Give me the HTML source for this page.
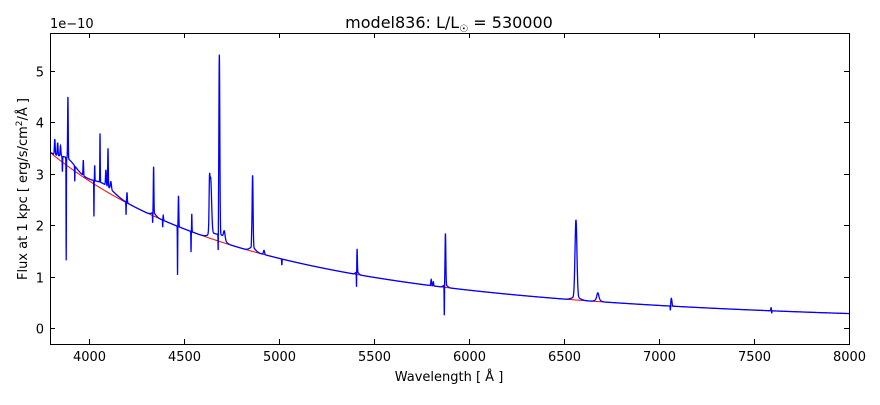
<!DOCTYPE html>
<html><head><meta charset="utf-8"><style>
body{margin:0;background:#fff;}
svg text{font-family:"DejaVu Sans","Liberation Sans",sans-serif;fill:#000;}
</style></head><body>
<svg id="s" width="880" height="400" xmlns="http://www.w3.org/2000/svg">
<rect width="880" height="400" fill="#fff"/>
<defs><clipPath id="c"><rect x="50" y="33" width="799" height="311"/></clipPath></defs>
<g clip-path="url(#c)">
<path id="red" fill="none" stroke="#f00" stroke-width="1"/>
<path id="blue" fill="none" stroke="#00f" stroke-width="1.3"/>
</g>
<rect x="50.5" y="33.5" width="799" height="311" fill="none" stroke="#000" stroke-width="1"/>
<g id="ticks" stroke="#000" stroke-width="1"></g>
<g id="lab" font-size="13"></g>
<text x="449" y="28" font-size="16" text-anchor="middle">model836: L/L<tspan font-size="10" dy="4">☉</tspan><tspan dy="-4"> = 530000</tspan></text>
<text x="50" y="28" font-size="13">1e−10</text>
<text x="449" y="381" font-size="13" text-anchor="middle">Wavelength [ Å ]</text>
<text transform="translate(27,189) rotate(-90)" font-size="13" text-anchor="middle">Flux at 1 kpc [ erg/s/cm<tspan font-size="9" dy="-5">2</tspan><tspan dy="5">/Å ]</tspan></text>
</svg>
<script>
function X(l){return 51+(l-3800)*0.19;}
function Y(f){return 328-f*51.4;}
function cont(l){return 3.4*Math.pow(3800/l,3.35);}
var lines=[[3820,0.3,2],[3835,0.25,2],[3850,0.2,2],[3889,1.2,1.5],[3880,-2.0,0.8],[3860,-0.3,1],[3970,0.3,1.5],[3925,-0.3,0.8],[4026,-0.7,0.8],[4030,0.3,1],[4058,0.95,1],[4089,0.3,2],[4100,0.75,1.5],[4115,0.15,3],[4200,0.2,1.5],[4195,-0.25,0.8],[4340,0.9,1.5],[4335,-0.2,0.8],[4388,-0.2,0.8],[4390,0.1,2],[4471,0.6,1.5],[4466,-0.95,0.8],[4541,0.35,1],[4537,-0.4,0.8],[4640,1.1,5],[4634,0.6,2],[4686,3.5,2.5],[4680,-0.5,0.8],[4712,0.15,4],[4861,1.4,2.5],[4856,0.12,1],[4921,0.08,3],[5015,-0.12,1],[5411,0.45,1.5],[5408,-0.35,0.8],[5801,0.12,2],[5812,0.08,2],[5876,1.0,2],[5870,-0.6,0.8],[6563,1.5,5],[6678,0.12,5],[7065,0.15,3],[7060,-0.12,1],[7590,0.06,2],[7593,-0.06,1],
[3890,0.15,40],[4080,0.12,50],[4660,0.12,25],[4700,0.1,15],[4861,0.08,15],[4340,0.06,12],[5411,0.05,8],[5876,0.05,10],[6563,0.06,20],[6678,0.05,12]];
var r="",b="";
for(var l=3800;l<=8010;l+=0.5){var c=cont(l);r+=(l==3800?"M":"L")+X(l).toFixed(2)+","+Y(c).toFixed(2);
var f=c;for(var i=0;i<lines.length;i++){var d=(l-lines[i][0])/lines[i][2];if(Math.abs(d)<6)f+=lines[i][1]*Math.exp(-0.5*d*d);}
b+=(l==3800?"M":"L")+X(l).toFixed(2)+","+Y(f).toFixed(2);}
document.getElementById("red").setAttribute("d",r);
document.getElementById("blue").setAttribute("d",b);
var t="",lab="";
for(var w=4000;w<=8000;w+=500){var x=Math.round(X(w))+0.5;t+='<line x1="'+x+'" y1="344" x2="'+x+'" y2="339"/><line x1="'+x+'" y1="33" x2="'+x+'" y2="38"/>';lab+='<text x="'+x+'" y="361" text-anchor="middle">'+w+'</text>';}
for(var v=0;v<=5;v++){var y=Math.round(Y(v))+0.5;t+='<line x1="50" y1="'+y+'" x2="55" y2="'+y+'"/><line x1="849" y1="'+y+'" x2="844" y2="'+y+'"/>';lab+='<text x="44" y="'+(y+5)+'" text-anchor="end">'+v+'</text>';}
document.getElementById("ticks").innerHTML=t;
document.getElementById("lab").innerHTML=lab;
</script>
</body></html>
